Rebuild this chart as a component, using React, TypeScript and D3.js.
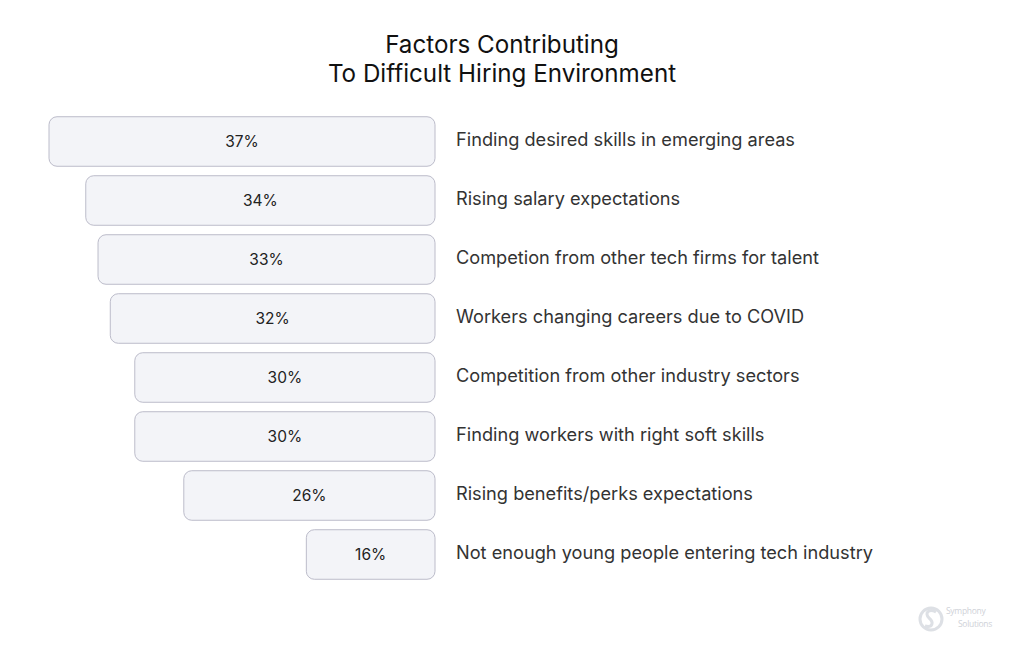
import React from "react";
import * as d3 from "d3";

const categories = [
  "Finding desired skills in emerging areas",
  "Rising salary expectations",
  "Competion from other tech firms for talent",
  "Workers changing careers due to COVID",
  "Competition from other industry sectors",
  "Finding workers with right soft skills",
  "Rising benefits/perks expectations",
  "Not enough young people entering tech industry",
];
const values = [37, 34, 33, 32, 30, 30, 26, 16];
const titleLines = ["Factors Contributing", "To Difficult Hiring Environment"];

export default function App() {
  const W = 1024, H = 649;
  const right = 435;
  const x = d3.scaleLinear().domain([5.5, 37]).range([0, 386]);
  const y = d3.scaleBand<number>().domain(d3.range(values.length)).range([112, 584]).paddingInner(0.16).paddingOuter(0.08);
  return (
    <svg width={W} height={H} style={{ position: "absolute", left: 0, top: 0, background: "#fff" }} fontFamily="Inter, sans-serif">
      {titleLines.map((t, i) => (
        <text key={i} x={502} y={53 + i * 29} textAnchor="middle" fontSize={24.2} fill="#111">{t}</text>
      ))}
      {values.map((v, i) => {
        const w = x(v);
        const y0 = y(i)!;
        const h = y.bandwidth();
        return (
          <g key={i}>
            <rect x={right - w} y={y0} width={w} height={h} rx={8} fill="#f3f4f8" stroke="#bcbcca" strokeWidth={1} />
            <text x={right - w / 2} y={y0 + h / 2} dy="0.36em" textAnchor="middle" fontSize={15.5} fill="#222">{v}%</text>
            <text x={456} y={y0 + h / 2} dy="0.22em" fontSize={18.2} fill="#333">{categories[i]}</text>
          </g>
        );
      })}
      <g opacity={0.6}>
        <circle cx={931} cy={619} r={11} fill="none" stroke="#c8ccd4" strokeWidth={3} />
        <path d="M936,612 C929,608 924,613 929,618 C934,622 933,628 925,626" fill="none" stroke="#c8ccd4" strokeWidth={3} />
        <text x={946} y={614} fontSize={8.5} letterSpacing={-0.3} fill="#b0b4be" fontFamily="Open Sans, sans-serif">Symphony</text>
        <text x={958} y={627} fontSize={8.5} letterSpacing={-0.3} fill="#b0b4be" fontFamily="Open Sans, sans-serif">Solutions</text>
      </g>
    </svg>
  );
}
